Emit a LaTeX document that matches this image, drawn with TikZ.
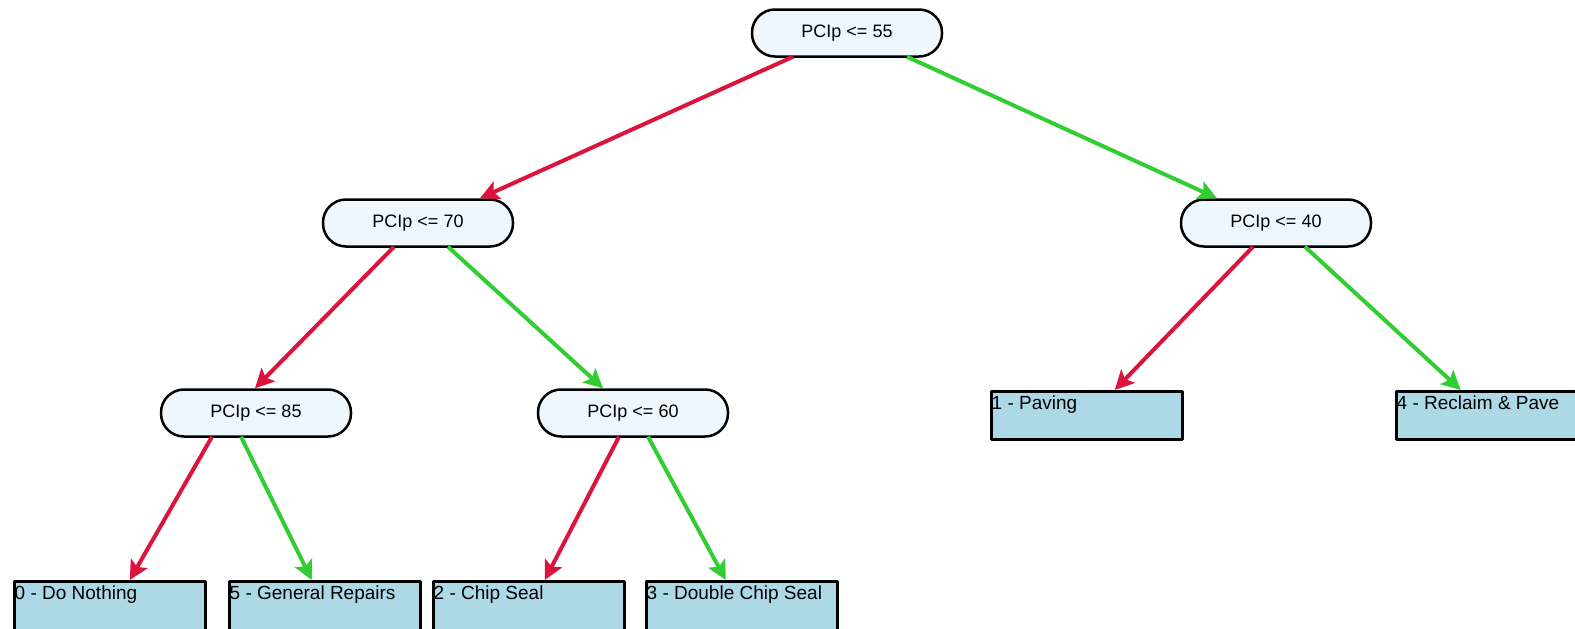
\documentclass[tikz,border=0pt]{standalone}
\usepackage{fontspec}
\setmainfont{Liberation Sans}
\usetikzlibrary{arrows.meta}

\definecolor{nofill}{HTML}{EEF6FE}
\definecolor{leaffill}{HTML}{ADD8E6}
\definecolor{noedge}{HTML}{DC143C}
\definecolor{yesedge}{HTML}{32CD32}

\def\leafw{191pt}

\begin{document}
\begin{tikzpicture}[x=1pt,y=-1pt,line join=round]
    \tikzstyle{decision}=[draw=black,fill=nofill,line width=2.5pt,rounded corners=23pt,
        minimum width=190pt,minimum height=47pt,inner sep=0pt,
        font=\fontsize{18}{20}\selectfont]
    \tikzstyle{leaf}=[draw=black,fill=leaffill,line width=2.5pt,anchor=north west,
        minimum width=\leafw,minimum height=48pt,inner sep=0pt]
    \tikzstyle{leaf text}=[anchor=north west,inner sep=1.5pt,yshift=-4pt,
        font=\fontsize{19}{21}\selectfont]
    \tikzstyle{branch}=[line width=4pt,-{Stealth[length=19pt,width=19pt,inset=4pt]}]

    \useasboundingbox (0,0) rectangle (1575,629);

    % Draw the decision nodes
    \foreach \name / \x / \y / \v in {root/847/33/55, n70/418/223/70, n40/1276/223/40,
                                     n85/256/413/85, n60/633/413/60}
        \node[decision] (\name) at (\x,\y) {PCIp <= \v};

    % Draw the leaf nodes (treatments)
    \node[leaf,minimum height=54pt,label={[leaf text]north west:0 - Do Nothing}] (L0) at (13,580) {};
    \node[leaf,minimum height=54pt,label={[leaf text]north west:5 - General Repairs}] (L5) at (228,580) {};
    \node[leaf,minimum height=54pt,label={[leaf text]north west:2 - Chip Seal}] (L2) at (432,580) {};
    \node[leaf,minimum height=54pt,label={[leaf text]north west:3 - Double Chip Seal}] (L3) at (645,580) {};
    \node[leaf,label={[leaf text]north west:1 - Paving}] (L1) at (990,390) {};
    \node[leaf,label={[leaf text]north west:4 - Reclaim \& Pave}] (L4) at (1395,390) {};

    % Connect every node with its two children
    % (red = condition true, green = condition false)
    \foreach \source / \dest / \sx / \dx / \col in {root/n70/-54/62/noedge, root/n40/60/-59/yesedge,
            n70/n85/-24/-1/noedge, n70/n60/30/-30/yesedge,
            n85/L0/-44/20/noedge, n85/L5/-15/-13/yesedge,
            n60/L2/-14/16/noedge, n60/L3/15/-16/yesedge,
            n40/L1/-23/28/noedge, n40/L4/29/-31/yesedge}
        \draw[branch,draw=\col,fill=\col] ([xshift=\sx pt,yshift=1pt]\source.south)
            -- ([xshift=\dx pt]\dest.north);
\end{tikzpicture}
\end{document}
